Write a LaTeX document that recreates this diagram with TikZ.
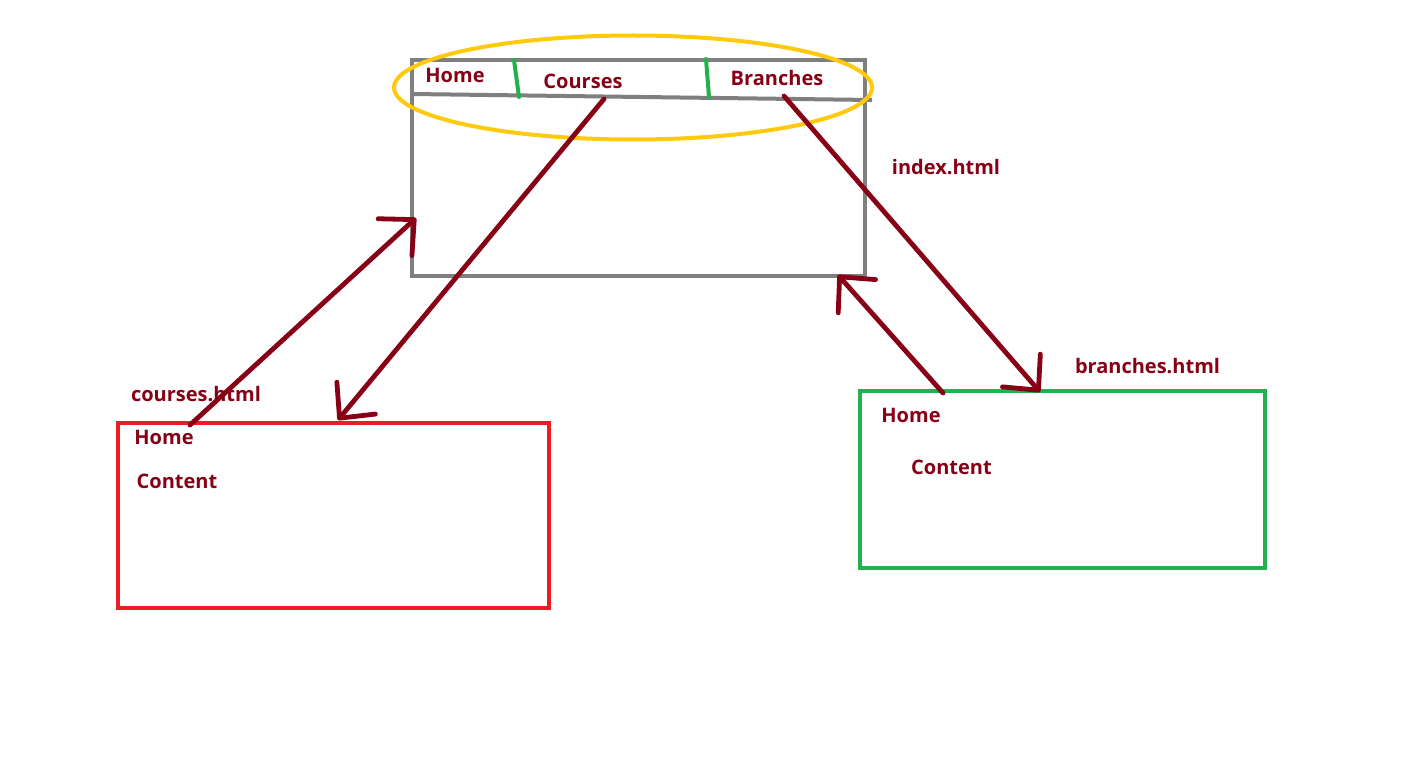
\documentclass[tikz,border=0pt]{standalone}
\usepackage{fontspec}
\setmainfont{Open Sans}
\usetikzlibrary{arrows.meta,shapes.geometric}
\definecolor{dred}{RGB}{136,0,21}
\definecolor{pgray}{RGB}{127,127,127}
\definecolor{pred}{RGB}{237,28,36}
\definecolor{pgreen}{RGB}{34,177,76}
\definecolor{pyellow}{RGB}{255,201,14}
\begin{document}
\begin{tikzpicture}[x=0.5pt,y=-0.5pt,
  lbl/.style={text=dred,font=\bfseries\fontsize{10}{12}\selectfont,inner sep=0pt},
  page/.style={draw,line width=2pt,inner sep=0pt},
  link/.style={draw=dred,line width=2.4pt,line cap=round,
    -{Straight Barb[length=13pt,width=25pt,line width=2.4pt,round]}},
  sep/.style={draw=pgreen,line width=2pt,line cap=round}]
\fill[white] (0,0) rectangle (1412,765);
\useasboundingbox (0,0) rectangle (1412,765);
% pages
\node[page,draw=pgray,minimum width=226.5pt,minimum height=108pt] (index) at (638.5,168) {};
\node[page,draw=pred,minimum width=215.5pt,minimum height=92.5pt] (courses) at (333.5,515.5) {};
\node[page,draw=pgreen,minimum width=202.5pt,minimum height=88.5pt] (branches) at (1062.5,479.5) {};
% navbar
\coordinate (navL) at (412,94);
\coordinate (navR) at (872,100);
\draw[draw=pgray,line width=2pt] (navL) -- (navR);
\coordinate (s1a) at (514,60); \coordinate (s1b) at (519,97);
\coordinate (s2a) at (706,59); \coordinate (s2b) at (709,97);
\draw[sep] (s1a) -- (s1b);
\draw[sep] (s2a) -- (s2b);
\node[draw=pyellow,line width=2pt,ellipse,inner sep=0pt,minimum width=239pt,minimum height=52pt] (nav) at (633,87.5) {};
% labels
\node[lbl] (tHome) at (455,75) {Home};
\node[lbl] (tCourses) at (583,81) {Courses};
\node[lbl] (tBranches) at (777,78) {Branches};
\node[lbl] (tIndex) at (946,167) {index.html};
\node[lbl] (tCfile) at (196,394) {courses.html};
\node[lbl] (tCHome) at (164,437) {Home};
\node[lbl] (tCContent) at (177,481) {Content};
\node[lbl] (tBfile) at (1147.5,366) {branches.html};
\node[lbl] (tBHome) at (911,415.5) {Home};
\node[lbl] (tBContent) at (951.5,467.5) {Content};
% connector end points
\coordinate (a1s) at (190,425);
\coordinate (a1e) at (416,218);
\coordinate (a2s) at (604,99);
\coordinate (a2e) at (338,420);
\coordinate (a3s) at (943,393);
\coordinate (a3e) at (838,275);
\coordinate (a4s) at (784,96);
\coordinate (a4e) at (1040,392);
\draw[link] (a1s) -- (a1e);
\draw[link] (a2s) -- (a2e);
\draw[link] (a3s) -- (a3e);
\draw[link] (a4s) -- (a4e);
\end{tikzpicture}
\end{document}
